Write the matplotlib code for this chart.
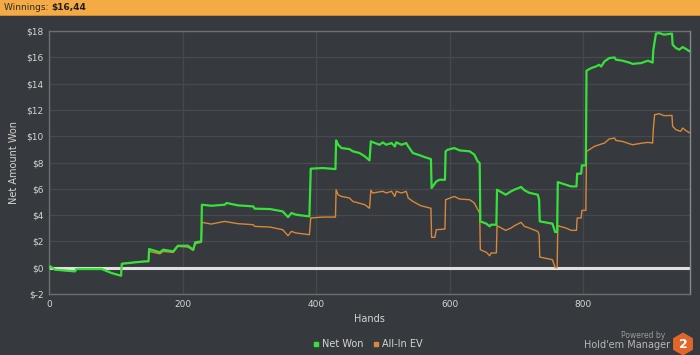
import matplotlib
matplotlib.use("Agg")
import matplotlib.pyplot as plt
from matplotlib.lines import Line2D
from matplotlib.patches import Rectangle, RegularPolygon

# ---------------- data ----------------
net_hands = [0, 2, 9, 39, 41, 79, 94, 108, 109, 129, 144, 149, 150, 166, 171, 186, 193, 208, 216, 219, 228,
             229, 243, 263, 266, 283, 306, 308, 331, 350, 358, 363, 370, 390,
             392, 410, 429, 430, 433, 438, 450, 455, 465, 473, 480,
             482, 495, 500, 505, 513, 518, 520, 528, 535, 538, 545, 557, 562, 572,
             573, 580, 585, 593, 594, 597, 607, 615, 630, 637, 642, 645,
             646, 655, 660, 662, 670, 671,
             684, 692, 697, 707, 712, 719, 732, 734, 735, 754, 758, 761,
             762, 774, 782, 790, 791, 797, 798, 804,
             805, 812, 819, 824, 827, 832, 839, 847, 849, 859, 869, 874, 887, 889, 897, 904,
             905, 909, 914, 921, 933, 934, 939, 944, 949, 954, 960]
net_won = [0.0, 0.1, -0.15, -0.28, -0.1, -0.1, -0.41, -0.61, 0.3, 0.41, 0.48, 0.48, 1.42, 1.17, 1.37, 1.24, 1.67, 1.67, 1.37, 1.93, 2.0,
           4.79, 4.71, 4.79, 4.92, 4.74, 4.66, 4.49, 4.46, 4.28, 3.85, 4.16, 4.03, 3.9,
           7.53, 7.58, 7.5, 9.68, 9.35, 9.1, 9.02, 8.85, 8.72, 8.47, 8.16,
           9.6, 9.35, 9.53, 9.35, 9.48, 9.22, 9.53, 9.35, 9.48, 9.22, 8.72, 8.52, 8.42, 8.26,
           6.06, 6.56, 6.69, 6.69, 8.85, 8.97, 9.1, 8.92, 8.85, 8.6, 8.09, 7.96,
           3.52, 3.35, 3.14, 3.27, 3.27, 5.93,
           5.55, 5.81, 5.93, 6.14, 5.89, 5.7, 5.55, 5.17, 3.52, 3.35, 2.71, 2.71,
           6.51, 6.31, 6.18, 6.18, 7.15, 7.15, 7.78, 7.78,
           14.98, 15.18, 15.3, 15.43, 15.3, 15.69, 15.94, 15.99, 15.82, 15.74, 15.6, 15.5, 15.56, 15.6, 15.74, 15.6,
           16.53, 17.8, 17.84, 17.72, 17.8, 16.96, 16.7, 16.58, 16.78, 16.63, 16.44]

ev_hands = [0, 2, 9, 39, 41, 79, 94, 108, 109, 129, 144, 149, 150, 166, 171, 186, 193, 208, 216, 219, 228,
            229, 243, 263, 283, 306, 308, 331, 350, 358, 363, 370, 390,
            392, 410, 429, 430, 433, 438, 450, 455, 473, 480,
            482, 485, 500, 505, 513, 518, 520, 528, 535, 538, 545, 557, 572,
            573, 578, 580, 593, 594, 607, 615, 630, 637, 645,
            646, 655, 660, 662, 670, 671,
            684, 692, 697, 707, 712, 719, 732, 734, 735, 754, 758, 761,
            762, 774, 782, 790, 791, 797, 798, 804,
            805, 809, 817, 824, 832, 839, 847, 849, 859, 869, 874, 889, 897, 904,
            905, 907, 914, 921, 933, 934, 939, 946, 949, 954, 960]
ev_won = [0.0, 0.1, -0.15, -0.28, -0.1, -0.1, -0.41, -0.61, 0.3, 0.41, 0.48, 0.48, 1.24, 1.06, 1.24, 1.16, 1.62, 1.57, 1.31, 1.82, 1.93,
          3.45, 3.32, 3.52, 3.35, 3.27, 3.14, 3.09, 2.89, 2.43, 2.76, 2.64, 2.51,
          3.78, 3.85, 3.85, 5.93, 5.55, 5.42, 5.3, 5.04, 4.79, 4.52,
          5.88, 5.68, 5.81, 5.68, 5.81, 5.42, 5.81, 5.68, 5.81, 5.3, 5.04, 4.71, 4.52,
          2.31, 2.31, 2.89, 2.94, 5.17, 5.42, 5.22, 5.17, 4.92, 4.15,
          1.37, 1.17, 0.91, 1.12, 1.12, 3.19,
          2.84, 3.02, 3.19, 3.45, 3.14, 3.02, 2.76, 2.51, 0.81, 0.61, 0.0, 0.0,
          3.19, 3.02, 2.84, 2.84, 3.78, 3.78, 4.36, 4.36,
          8.84, 8.97, 9.23, 9.35, 9.48, 9.79, 9.86, 9.68, 9.6, 9.43, 9.35, 9.48, 9.53, 9.48,
          10.49, 11.63, 11.71, 11.56, 11.58, 10.75, 10.49, 10.37, 10.62, 10.42, 10.24]

y_ticks = [-2, 0, 2, 4, 6, 8, 10, 12, 14, 16, 18]
y_tick_labels = ["$-2", "$0", "$2", "$4", "$6", "$8", "$10", "$12", "$14", "$16", "$18"]
x_ticks = [0, 200, 400, 600, 800]
x_tick_labels = ["0", "200", "400", "600", "800"]
series_names = ["Net Won", "All-In EV"]
winnings_text = "$16,44"

# ---------------- style ----------------
BG = "#36393d"
GRID = "#464a4f"
TXT = "#d4d4d4"
GREEN = "#36e23a"
ORANGE = "#d8883a"

fig = plt.figure(figsize=(7.0, 3.55), dpi=100, facecolor=BG)
ax = fig.add_axes([49/700, 1 - 294/355, (690-49)/700, (294-31)/355])
ax.set_facecolor(BG)

ax.set_xlim(0, 960)
ax.set_ylim(-2, 18)
ax.set_yticks(y_ticks)
ax.set_yticklabels(y_tick_labels)
ax.set_xticks(x_ticks)
ax.set_xticklabels(x_tick_labels)
ax.tick_params(colors=TXT, labelsize=6.5, length=0, pad=4)
ax.grid(True, color=GRID, lw=0.9)
ax.set_axisbelow(True)
for side, sp in ax.spines.items():
    sp.set_color("#6c7075")
    sp.set_linewidth(1.0)
ax.spines["right"].set_color("#85898e")

ax.axhline(0, color="#e0e0e0", lw=2.2, zorder=2)

ax.plot(ev_hands, ev_won, color=ORANGE, lw=1.0, zorder=3)
ax.plot(net_hands, net_won, color=GREEN, lw=1.6, zorder=4)

ax.set_xlabel("Hands", color=TXT, fontsize=7, labelpad=4)
ax.set_ylabel("Net Amount Won", color=TXT, fontsize=7, labelpad=5)

# top bar
fig.patches.append(Rectangle((0, 1 - 15/355), 1, 15/355, transform=fig.transFigure,
                             facecolor="#f4ab45", edgecolor="none", zorder=0))
fig.patches.append(Rectangle((0, 1 - 16/355), 1, 1/355, transform=fig.transFigure,
                             facecolor="#c98a35", edgecolor="none", zorder=0))
t1 = fig.text(4/700, 1 - 7.5/355, "Winnings: ", color="#2a2a2a", fontsize=6.5, va="center", ha="left")
fig.canvas.draw()
bb = t1.get_window_extent()
fig.text(bb.x1 / 700, 1 - 7.5/355, winnings_text, color="#1e1e1e", fontsize=6.5,
         fontweight="bold", va="center", ha="left")

# legend
handles = [Line2D([], [], marker="s", linestyle="", color=GREEN, markersize=3.5),
           Line2D([], [], marker="s", linestyle="", color=ORANGE, markersize=3.5)]
leg = fig.legend(handles, series_names, loc="center", bbox_to_anchor=(367/700, 1 - 344/355),
                 ncol=2, frameon=False, fontsize=7, labelcolor=TXT, handletextpad=0.1,
                 columnspacing=0.8, handlelength=1.0)

# logo
fig.text(665/700, 1 - 336/355, "Powered by", color="#9a9a9a", fontsize=5.5, ha="right", va="center")
fig.text(670/700, 1 - 345.5/355, "Hold'em Manager", color="#b8b8b8", fontsize=7, ha="right", va="center")
hexa = RegularPolygon((6.83, 3.55 - 3.44), numVertices=6, radius=0.115, orientation=0,
                      transform=fig.dpi_scale_trans, facecolor="#e0662a", edgecolor="none")
fig.patches.append(hexa)
fig.text(683/700, 1 - 344/355, "2", color="white", fontsize=9, fontweight="bold", ha="center", va="center")

fig.savefig("out.png", dpi=100, facecolor=BG)
